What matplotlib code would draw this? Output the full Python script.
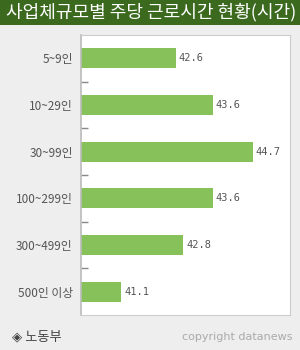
import matplotlib
matplotlib.use("Agg")
import matplotlib.pyplot as plt
import numpy as np

categories = ["5~9인", "10~29인", "30~99인", "100~299인", "300~499인", "500인 이상"]
values = [42.6, 43.6, 44.7, 43.6, 42.8, 41.1]
title = "사업체규모별 주당 근로시간 현황(시간)"
source = "◈ 노동부"
credit = "copyright datanews"

plt.rcParams['font.family'] = ['Noto Sans CJK KR', 'DejaVu Sans']

W, H = 300, 350
fig = plt.figure(figsize=(W / 100, H / 100), dpi=100)
fig.patch.set_facecolor("#eeeeee")

# title bar
fig.patches.append(plt.Rectangle((0, 1 - 25 / H), 1, 25 / H, transform=fig.transFigure,
                                 facecolor="#3b6a1f", edgecolor="none", zorder=0))
t = fig.text(151 / W, 1 - 12.5 / H, title, color="white", fontsize=13, ha="center", va="center",
             fontweight="medium")

# axes
x0, x1, y0, y1 = 81, 290, 35, 315
ax = fig.add_axes([x0 / W, 1 - y1 / H, (x1 - x0) / W, (y1 - y0) / H])
ax.set_facecolor("white")
n = len(categories)
pos = np.arange(n)
ax.barh(pos, values, height=0.43, left=0, color="#86c15a", zorder=2)
ax.set_xlim(40, 45.72)
ax.set_ylim(n - 0.5, -0.5)
ax.set_xticks([])
ax.set_yticks(pos)
ax.set_yticklabels(categories, fontsize=8.5, color="#555555")
ax.tick_params(axis="y", length=0, pad=6)
ax.set_yticks(np.arange(0.5, n - 0.5, 1), minor=True)
ax.tick_params(axis="y", which="minor", direction="in", length=5, color="#888888", width=1)
for s in ["top", "right", "bottom"]:
    ax.spines[s].set_color("#cccccc")
ax.spines["left"].set_color("#bbbbbb")
ax.spines["left"].set_linewidth(1.2)
for p, v in zip(pos, values):
    ax.text(v + 0.08, p, f"{v:.1f}", va="center", ha="left", fontsize=7.5,
            color="#555555", family="DejaVu Sans Mono")

fig.text(12 / W, 1 - 337 / H, source, fontsize=9.5, color="#444444", ha="left", va="center")
fig.text(292 / W, 1 - 337 / H, credit, fontsize=8, color="#aaaaaa", ha="right", va="center",
         family="DejaVu Sans")

fig.savefig("out.png", dpi=100, facecolor=fig.get_facecolor())
